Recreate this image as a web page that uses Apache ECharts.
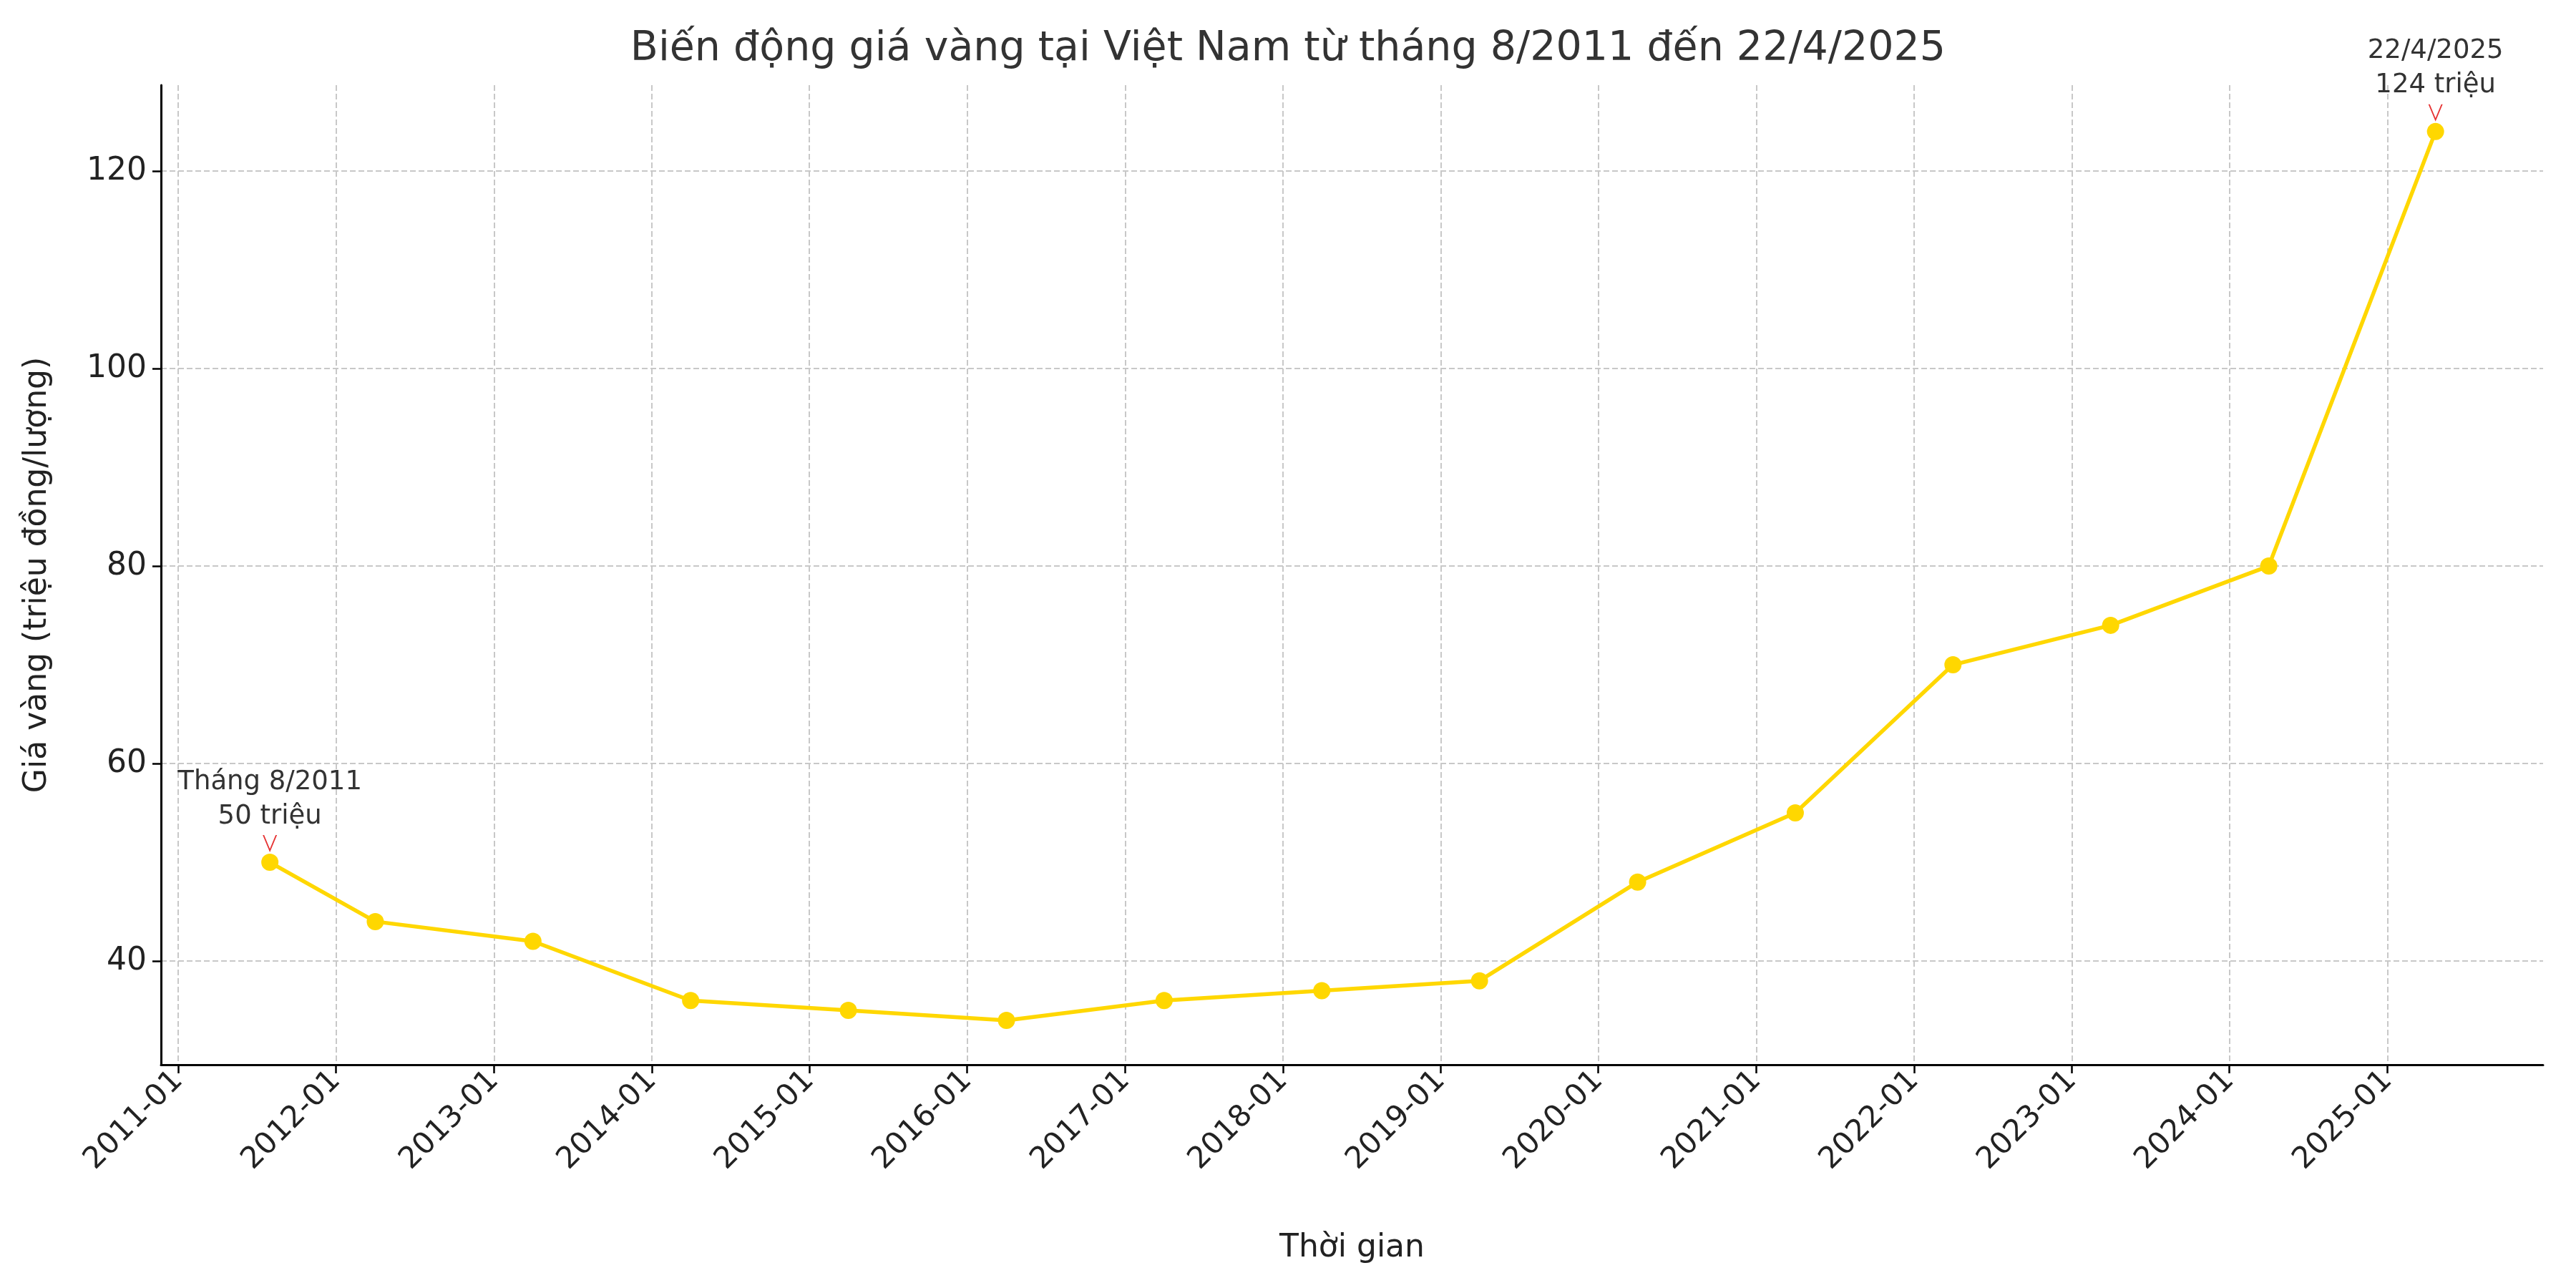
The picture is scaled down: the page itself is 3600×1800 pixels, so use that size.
<!DOCTYPE html>
<html><head><meta charset="utf-8">
<script src="https://cdn.jsdelivr.net/npm/echarts@6/dist/echarts.min.js"></script>
<style>html,body{margin:0;padding:0;background:#fff}#c{width:3600px;height:1800px}</style>
</head><body><div id="c"></div>
<script>
const dates = ['2011-08-01','2012-04-01','2013-04-01','2014-04-01','2015-04-01','2016-04-01','2017-04-01','2018-04-01','2019-04-01','2020-04-01','2021-04-01','2022-04-01','2023-04-01','2024-04-01','2025-04-22'];
const prices = [50,44,42,36,35,34,36,37,38,48,55,70,74,80,124];
const annotations = {0:'Tháng 8/2011\n50 triệu', 14:'22/4/2025\n124 triệu'};
const FONT = 'DejaVu Sans';
const YEAR = 365*24*3600*1000;
const chart = echarts.init(document.getElementById('c'));
const lineData = dates.map((d,i)=>{
  const item = {value:[d, prices[i]]};
  if (annotations[i]) item.label = {show:true, formatter:annotations[i], position:'top', distance:28, fontSize:37, color:'#333', fontFamily:FONT, lineHeight:48};
  return item;
});
const arrowData = dates.map((d,i)=>[d,prices[i]]).filter((_,i)=>annotations[i]);
chart.setOption({
  backgroundColor:'#fff',
  title:{text:'Biến động giá vàng tại Việt Nam từ tháng 8/2011 đến 22/4/2025', left:'center', top:36, textStyle:{fontSize:57, fontWeight:'normal', color:'#333', fontFamily:FONT}},
  grid:{left:225, right:46, top:119, bottom:312},
  xAxis:{type:'time', min:'2010-11-22', max:'2025-12-27', minInterval:YEAR, maxInterval:YEAR,
    name:'Thời gian', nameLocation:'middle', nameGap:235, nameTextStyle:{fontSize:44, color:'#222', fontFamily:FONT},
    axisLine:{lineStyle:{color:'#000', width:3}}, axisTick:{show:true, length:12, lineStyle:{color:'#000', width:2.5}},
    axisLabel:{formatter:'{yyyy}-{MM}', rotate:45, fontSize:42, color:'#222', fontFamily:FONT, margin:16, showMinLabel:false, showMaxLabel:false},
    splitLine:{show:true, showMinLine:false, showMaxLine:false, lineStyle:{type:'dashed', color:'#c8c8c8', width:2}}},
  yAxis:{type:'value', min:29.5, max:128.7, splitNumber:5,
    name:'Giá vàng (triệu đồng/lượng)', nameLocation:'middle', nameGap:150, nameTextStyle:{fontSize:44, color:'#222', fontFamily:FONT},
    axisLine:{show:true, lineStyle:{color:'#000', width:3}}, axisTick:{show:true, length:12, lineStyle:{color:'#000', width:2.5}},
    axisLabel:{fontSize:44, color:'#222', fontFamily:FONT, margin:20, showMinLabel:false, showMaxLabel:false},
    splitLine:{show:true, showMinLine:false, showMaxLine:false, lineStyle:{type:'dashed', color:'#c8c8c8', width:2}}},
  series:[
    {type:'line', data:lineData, symbol:'circle', symbolSize:24, itemStyle:{color:'#FFD700'}, lineStyle:{color:'#FFD700', width:5.5}, z:3},
    {type:'scatter', data:arrowData, symbol:'path://M0,0 L5,10 L10,0 L9,0 L5,8 L1,0 Z', symbolSize:[20,24], symbolOffset:[0,-26], itemStyle:{color:'#e00000'}, z:4, silent:true}
  ]
});
</script></body></html>
